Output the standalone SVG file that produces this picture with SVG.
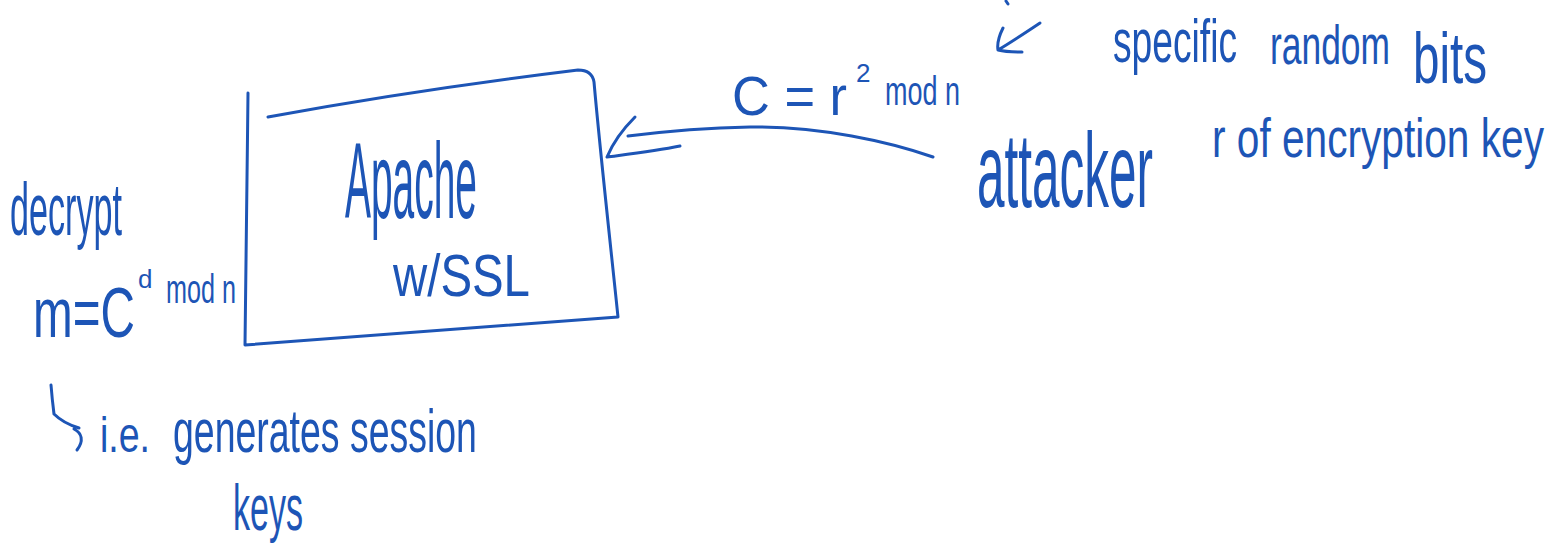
<svg xmlns="http://www.w3.org/2000/svg" width="1562" height="544" viewBox="0 0 1562 544">
<style>
.ink{fill:none;stroke:#1d55b6;stroke-width:3;stroke-linecap:round;stroke-linejoin:round}
.t{fill:#1d55b6;font-family:"Liberation Sans",Arial,sans-serif}
</style>
<rect width="1562" height="544" fill="#ffffff"/>
<g id="apache">
<path class="ink" d="M248,93 C247,180 246,270 245,345 L618,317 C610,240 600,150 594,82 Q592,70 578,70 C480,82 360,100 268,117"/>
<text class="t" transform="translate(345 218) scale(0.3604 1)" font-size="108">Apache</text>
<text class="t" transform="translate(393 296) scale(0.79 1)" font-size="60">w/SSL</text>
</g>
<g id="attacker">
<text class="t" transform="translate(977 207) scale(0.4712 1)" font-size="105">attacker</text>
</g>
<g id="decrypt-note">
<text class="t" transform="translate(10 235) scale(0.4555 1)" font-size="75">decrypt</text>
<text class="t" transform="translate(33 337) scale(0.681 1)" font-size="70">m=C</text>
<text class="t" x="138" y="288" font-size="26">d</text>
<text class="t" transform="translate(166 303) scale(0.63 1)" font-size="40">mod n</text>
</g>
<g id="session-note">
<text class="t" transform="translate(100 452) scale(0.75 1)" font-size="50">i.e.</text>
<text class="t" transform="translate(173 452) scale(0.604 1)" font-size="62">generates session</text>
<text class="t" transform="translate(233 530) scale(0.524 1)" font-size="65">keys</text>
</g>
<g id="cipher-label">
<text class="t" transform="translate(732 115) scale(0.936 1)" font-size="56">C = r</text>
<text class="t" x="856" y="82" font-size="26">2</text>
<text class="t" transform="translate(885 105) scale(0.675 1)" font-size="40">mod n</text>
</g>
<g id="bits-note">
<text class="t" transform="translate(1113 62) scale(0.6 1)" font-size="62">specific</text>
<text class="t" transform="translate(1270 64) scale(0.632 1)" font-size="56">random</text>
<text class="t" transform="translate(1413 83) scale(0.661 1)" font-size="72">bits</text>
<text class="t" transform="translate(1212 157) scale(0.739 1)" font-size="55">r of encryption key</text>
</g>
<g id="connectors">
<path class="ink" d="M933,157 C890,142 820,126 750,127 C700,128 660,132 628,136"/>
<path class="ink" d="M635,117 C622,130 612,145 607,157 C630,154 656,151 680,146"/>
<path class="ink" d="M1040,23 C1025,33 1010,43 998,50 M1003,28 C999,36 997,44 998,50 C1006,52 1014,52 1022,52"/>
<path class="ink" d="M1006,1 L1008,4"/>
<path class="ink" d="M51,385 C52,398 53,406 54,414 C61,421 69,425 79,428 M74,429 C82,433 84,441 77,450"/>
</g>
</svg>
